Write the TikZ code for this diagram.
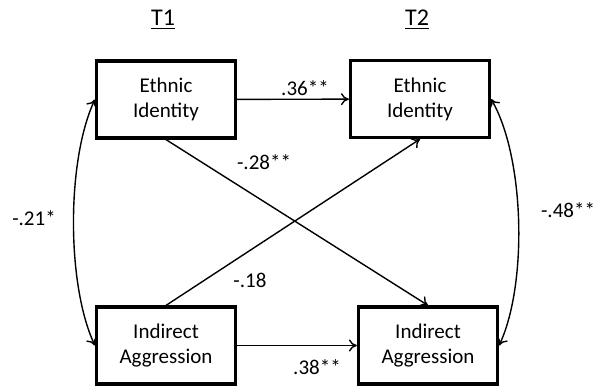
\documentclass[tikz,border=0pt]{standalone}
\usepackage{fontspec}
\setmainfont{Carlito}
\usetikzlibrary{arrows.meta}
\begin{document}
\begin{tikzpicture}[x=0.5pt,y=-0.5pt,
  var/.style={draw,line width=1.6pt,minimum width=69.5pt,minimum height=38.5pt,align=center,font=\fontsize{10.5}{12.5}\selectfont,inner sep=0pt},
  path/.style={line width=0.7pt,-{To[length=4pt,width=6pt]}},
  cov/.style={line width=0.7pt,{To[length=4pt,width=6pt]}-{To[length=4pt,width=6pt]}},
  lab/.style={font=\fontsize{10.5}{12.5}\selectfont,inner sep=0pt},
  ttl/.style={font=\fontsize{12}{14}\selectfont,inner sep=0pt}]
\useasboundingbox (0,0) rectangle (596,387);
\node[ttl] (t1) at (163,20) {\underline{T1}};
\node[ttl] (t2) at (417,20) {\underline{T2}};
\node[var] (ei1) at (166,99.5) {Ethnic\\Identity};
\node[var] (ei2) at (420,99) {Ethnic\\Identity};
\node[var] (ia1) at (166,345.5) {Indirect\\Aggression};
\node[var] (ia2) at (428,345.5) {Indirect\\Aggression};
\draw[path] (ei1) -- (ei2);
\draw[path] (ia1) -- (ia2);
\draw[path] (ei1.south) -- (ia2.north);
\draw[path] (ia1.north) -- (ei2.south);
\draw[cov] (ei1.west) to[out=245,in=115,looseness=0.7] (ia1.west);
\draw[cov] (ei2.east) to[out=-60,in=65,looseness=0.7] (ia2.east);
\node[lab] (l36) at (305,88) {.36**};
\node[lab] (l28) at (264,162) {-.28**};
\node[lab] (l18) at (250,280) {-.18};
\node[lab] (l38) at (317,367) {.38**};
\node[lab] (l21) at (34,218) {-.21*};
\node[lab] (l48) at (568,210) {-.48**};
\end{tikzpicture}
\end{document}
